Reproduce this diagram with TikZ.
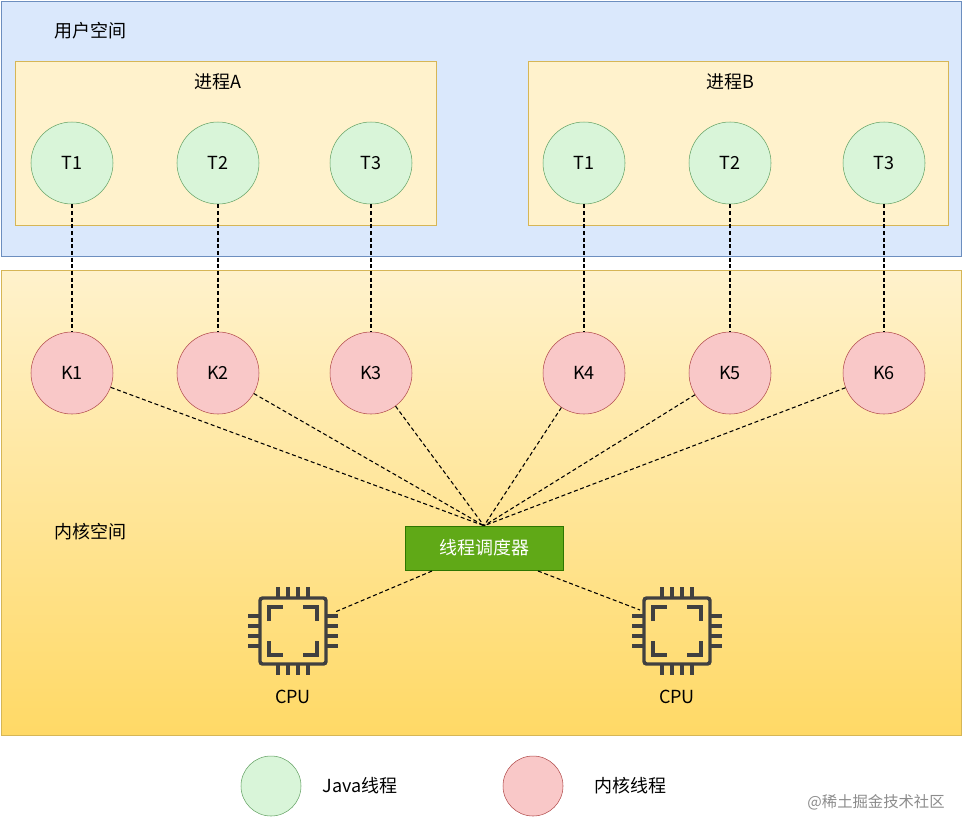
\documentclass[tikz,border=0pt]{standalone}
\usepackage{fontspec}
\setmainfont{Noto Sans CJK SC}
\begin{document}
\begin{tikzpicture}[x=0.75pt,y=-0.75pt,
  txt/.style={font=\fontsize{13.5}{15}\selectfont},
  jt/.style={circle,draw=green!40!black!60!white,fill=green!12!white!92!gray,minimum size=61.5pt,inner sep=0,txt},
  kt/.style={circle,draw=red!40!gray,fill=red!20!white!95!gray,minimum size=61.5pt,inner sep=0,txt},
  dl/.style={line width=0.8pt,dash pattern=on 3pt off 2pt},
  cpu/.style={line width=2.6pt,draw=black!75}]
\definecolor{ub}{HTML}{DAE8FC}\definecolor{us}{HTML}{6C8EBF}
\definecolor{ky}{HTML}{FFF2CC}\definecolor{kd}{HTML}{FFD966}\definecolor{ks}{HTML}{D6B656}
\definecolor{gs}{HTML}{2D7600}\definecolor{gf}{HTML}{60A917}
\useasboundingbox (0,0) rectangle (962,818);
\fill[white] (0,0) rectangle (962,818);
\draw[fill=ub,draw=us] (1,1) rectangle (961,256);
\draw[draw=ks,top color=ky,bottom color=kd] (1,270) rectangle (961,735);
\draw[fill=ky,draw=ks] (15,61) rectangle (436,225);
\draw[fill=ky,draw=ks] (528,61) rectangle (948,225);
\node[txt] (us) at (90,31) {用户空间};
\node[txt] (ks) at (90,532) {内核空间};
\node[txt] (pa) at (218,82) {进程A};
\node[txt] (pb) at (730,82) {进程B};
\foreach \i/\x in {1/72,2/218,3/371}{\node[jt] (a\i) at (\x,163) {T\i};}
\foreach \i/\x in {1/584,2/730,3/884}{\node[jt] (b\i) at (\x,163) {T\i};}
\foreach \i/\x in {1/72,2/218,3/371,4/584,5/730,6/884}{\node[kt] (k\i) at (\x,373) {K\i};}
\draw[dl] (a1)--(k1); \draw[dl] (a2)--(k2); \draw[dl] (a3)--(k3);
\draw[dl] (b1)--(k4); \draw[dl] (b2)--(k5); \draw[dl] (b3)--(k6);
\node[draw=gs,fill=gf,text=white,minimum width=118.5pt,minimum height=33pt,inner sep=0,txt] (s) at (484,548) {线程调度器};
\foreach \i in {1,...,6}{\draw[dl] (k\i)--(s.north);}
\foreach \n/\cx in {c1/293,c2/677}{
 \begin{scope}[shift={(\cx,631)}]
  \draw[cpu,rounded corners=2pt] (-33,-33) rectangle (33,33);
  \foreach \p in {-15,-5,5,15}{
   \draw[cpu] (\p,-33)--(\p,-44); \draw[cpu] (\p,33)--(\p,44);
   \draw[cpu] (-33,\p)--(-45,\p); \draw[cpu] (33,\p)--(45,\p);}
  \draw[cpu] (-24,-10)--(-24,-24)--(-10,-24); \draw[cpu] (10,-24)--(24,-24)--(24,-10);
  \draw[cpu] (-24,10)--(-24,24)--(-10,24); \draw[cpu] (10,24)--(24,24)--(24,10);
 \end{scope}
 \coordinate (\n) at (\cx,631);}
\node[txt] (l1) at (293,697) {CPU};
\node[txt] (l2) at (677,697) {CPU};
\coordinate (c1r) at (335,612); \coordinate (c2l) at (640,610);
\draw[dl] (432,571)--(c1r);
\draw[dl] (538,571)--(c2l);
\node[jt,minimum size=45pt] (lj) at (271,786) {};
\node[kt,minimum size=45pt] (lk) at (533,786) {};
\node[txt] (tj) at (360,786) {Java线程};
\node[txt] (tk) at (630,786) {内核线程};
\node[font=\fontsize{11.5}{13}\selectfont,text=black!45] (wm) at (876,802) {@稀土掘金技术社区};
\end{tikzpicture}
\end{document}
